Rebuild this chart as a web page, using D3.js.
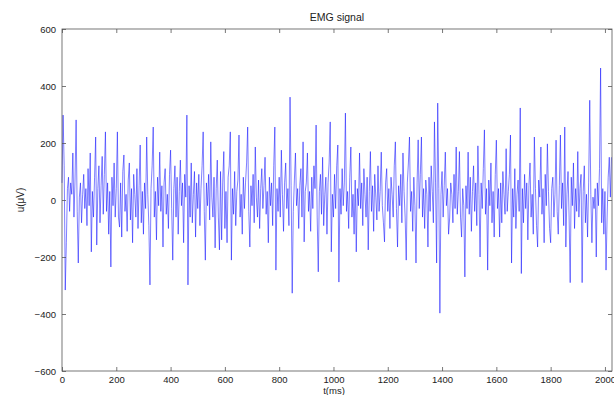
<!DOCTYPE html>
<html>
<head>
<meta charset="utf-8">
<script src="https://cdn.jsdelivr.net/npm/d3@7"></script>
<style>
  html, body { margin: 0; padding: 0; background: #fff; }
  svg { display: block; }
  text { font-family: "Liberation Sans", Arial, sans-serif; fill: #222; }
</style>
</head>
<body>
<svg id="chart" width="614" height="395"></svg>
<script>
// ---- data (sample every 4 ms) ----
const sampleStep = 4; // ms
const signal = [
  60, 298, 120, -316, -150, 40, 80, -40, 60, 20, 165, -60, 70, 281, -40, -221, 10, 60, -80, 20, 90, -30, 40, -90, 110,
  -20, 165, -182, 30, -60, 80, 221, -158, 40, 120, -80, 50, 153, -50, 90, 239, -40, 60, -120, 30, -235, 80, -20, 130, -60,
  40, 239, -60, -95, 60, -130, 100, 158, -40, 20, -110, 70, 130, -70, 40, -150, 90, 20, -60, 110, -100, 50, 193, -80, 30,
  -120, 60, -30, 221, 20, -90, -298, 40, 120, 256, -60, 30, -140, 80, -20, 168, -40, 50, -165, 60, 110, -50, 20, -100, 90,
  175, -30, -211, 40, 120, -60, 80, -120, 30, 140, -20, 60, -150, 90, 10, 298, -298, 50, -60, 130, -80, 20, 100, -130, 60,
  -30, 90, -90, 40, 120, 239, -40, -211, 60, -20, 90, -70, 204, 10, -60, 80, -168, 40, 140, -60, -175, 100, -140, 60, 170,
  -100, 30, -150, 80, 120, 239, -211, 40, -50, 100, -90, 30, 70, 228, -60, 20, -120, 80, -30, 60, 130, 256, -40, -165, 50,
  -20, 90, -80, 186, 10, -60, 70, -100, 40, 110, -30, 50, 150, -50, 30, -150, 80, -20, 60, -90, 120, 256, -246, 40, -40,
  80, -60, 175, 20, -110, 60, 130, -30, 40, -90, 361, 50, -327, -40, 70, 165, -20, 40, -100, 50, 110, -60, 204, -147, 30,
  60, 165, -40, 30, -110, 80, -30, 120, 40, 263, -60, -252, 30, 90, -50, 150, -90, 20, 80, -120, 60, 130, 274, -182, 20,
  -60, 90, -30, 120, 193, -288, 40, -50, 110, -20, 60, 305, -40, 30, -100, 80, 186, -60, 20, -120, 70, -182, 40, -20, 165,
  -30, 60, -90, 110, 20, -60, 80, -175, 30, 170, -40, 50, -110, 90, 10, -70, 120, -40, 30, 168, -20, -80, -147, 60, 110,
  -40, 40, -100, 80, 20, -60, 120, 204, -30, -165, 50, -20, 90, -80, 165, 30, -60, -211, 60, 130, 221, -40, 30, -110, 80,
  -20, -221, 60, 211, -30, 90, 221, -60, 40, -100, 70, 20, -165, 80, -40, 120, 30, -80, 274, 60, -221, 340, 40, -397, 20,
  100, -60, 50, 168, -20, 40, -120, -63, 60, 20, -80, 90, -30, 186, -50, 30, 170, -60, -130, 40, -20, -270, 50, -30, 168,
  -50, 80, -110, 30, 120, -40, 60, -90, 190, 20, -200, 60, -30, 110, 246, -50, 40, -246, 70, -20, 130, -80, 30, -130, 90,
  210, -30, 40, -130, 60, -80, 100, 20, -50, 180, -40, 30, 90, 228, -221, 40, -60, 110, -100, 20, 70, -40, 323, -258, 40,
  -80, 90, -30, 60, -140, 50, 130, -60, 20, -120, 221, 40, -90, -165, 70, 10, 186, -50, 40, -150, 90, -20, 197, 30, -100,
  -150, 40, 80, -60, 20, 210, -40, -120, 50, 228, -30, 60, -90, 256, -165, 20, 100, -60, -290, 80, -20, 130, -100, 40, -40,
  170, -60, 40, 90, -290, 30, 120, -80, 20, -130, 60, 350, 20, -150, 10, -30, 40, -200, 60, -20, 110, 463, -80, 40, -120,
  30, -246, -60, 80, 150, 10, 150
];
const xTicks = [0, 200, 400, 600, 800, 1000, 1200, 1400, 1600, 1800, 2000];
const yTicks = [-600, -400, -200, 0, 200, 400, 600];
const xDomain = [0, 2026];
const yDomain = [-600, 600];
const titleText = "EMG signal";
const xLabel = "t(ms)";
const yLabel = "u(\u03bcV)";

// ---- layout ----
const svg = d3.select("#chart");
const m = { left: 62, right: 612, top: 29, bottom: 371 };
const x = d3.scaleLinear().domain(xDomain).range([m.left, m.right]);
const y = d3.scaleLinear().domain(yDomain).range([m.bottom, m.top]);

// signal line
const pts = signal.map((v, i) => [i * sampleStep, v]);
svg.append("path")
  .datum(pts)
  .attr("fill", "none")
  .attr("stroke", "#1010ff")
  .attr("stroke-opacity", 0.6)
  .attr("stroke-width", 0.9)
  .attr("stroke-linejoin", "round")
  .attr("d", d3.line().x(d => x(d[0])).y(d => y(d[1])));

// axes
const axisColor = "#555";
const tl = 4;
function styleAxis(g, showLabels) {
  g.select(".domain").remove();
  g.selectAll(".tick line").attr("stroke", axisColor).attr("stroke-width", 0.8);
  g.selectAll(".tick text").attr("font-size", 9.5).attr("fill", "#222")
    .attr("font-family", "'Liberation Sans', Arial, sans-serif");
  if (!showLabels) g.selectAll(".tick text").remove();
}
svg.append("g").attr("transform", `translate(0,${m.bottom})`)
  .call(d3.axisBottom(x).tickValues(xTicks).tickSize(-tl).tickPadding(5).tickFormat(d3.format("d")))
  .call(g => styleAxis(g, true));
svg.append("g").attr("transform", `translate(0,${m.top})`)
  .call(d3.axisTop(x).tickValues(xTicks).tickSize(-tl))
  .call(g => styleAxis(g, false));
svg.append("g").attr("transform", `translate(${m.left},0)`)
  .call(d3.axisLeft(y).tickValues(yTicks).tickSize(-tl).tickPadding(6).tickFormat(d3.format("d")))
  .call(g => styleAxis(g, true));
svg.append("g").attr("transform", `translate(${m.right},0)`)
  .call(d3.axisRight(y).tickValues(yTicks).tickSize(-tl))
  .call(g => styleAxis(g, false));

svg.append("rect")
  .attr("x", m.left).attr("y", m.top)
  .attr("width", m.right - m.left).attr("height", m.bottom - m.top)
  .attr("fill", "none").attr("stroke", axisColor).attr("stroke-width", 0.8);

// title and labels
svg.append("text").attr("x", 337).attr("y", 21).attr("text-anchor", "middle")
  .attr("font-size", 10.5).text(titleText);
svg.append("text").attr("x", 334).attr("y", 394).attr("text-anchor", "middle")
  .attr("font-size", 9.5).text(xLabel);
svg.append("text").attr("transform", "translate(24,200) rotate(-90)")
  .attr("text-anchor", "middle").attr("font-size", 10).text(yLabel);
</script>
</body>
</html>
